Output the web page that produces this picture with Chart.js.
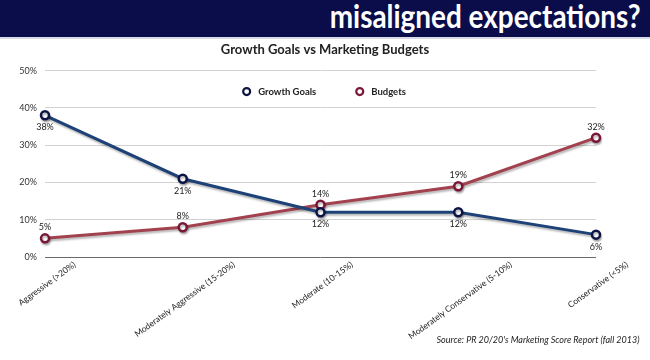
<!DOCTYPE html>
<html><head><meta charset="utf-8">
<script src="https://cdn.jsdelivr.net/npm/chart.js@4"></script>
<style>
html,body{margin:0;padding:0;background:#fff;}
#wrap{position:relative;width:650px;height:360px;overflow:hidden;font-family:Lato,"Open Sans",sans-serif;}
#hdr{position:absolute;left:0;top:0;width:650px;height:37px;background:#0a0d4a;border-bottom:2px solid #d9dae3;}
#hdr span{position:absolute;right:9px;top:-4px;color:#fff;font-weight:bold;font-size:32px;line-height:40px;white-space:nowrap;transform-origin:right center;}
#src{position:absolute;right:10px;top:334px;font-style:italic;font-size:9px;color:#222;white-space:nowrap;transform-origin:right center;}
canvas{position:absolute;left:0;top:0;}
</style></head>
<body><div id="wrap"><canvas id="c" width="650" height="360"></canvas><div id="hdr"><span id="ht">misaligned expectations?</span></div><div id="src">Source: PR 20/20's Marketing Score Report (fall 2013)</div></div>
<script>
const categories = ["Aggressive (>20%)", "Moderately Aggressive (15-20%)", "Moderate (10-15%)", "Moderately Conservative (5-10%)", "Conservative (<5%)"];
const growthGoals = [38, 21, 12, 12, 6];
const budgets = [5, 8, 14, 19, 32];
const seriesNames = ["Growth Goals", "Budgets"];
const yMin = 0, yMax = 50, yStep = 10;

(function(){
  const s = document.getElementById('ht');
  const w = s.getBoundingClientRect().width;
  if (w > 0) s.style.transform = 'scaleX(' + (311 / w) + ')';
  const src = document.getElementById('src');
  const w2 = src.getBoundingClientRect().width;
  if (w2 > 0) src.style.transform = 'scaleX(' + (203 / w2) + ')';
})();

const FONT = 'Lato, "Open Sans", sans-serif';

const shadowPlugin = {
  id: 'shadow',
  beforeDatasetDraw(chart) {
    const ctx = chart.ctx;
    ctx.save();
    ctx.shadowColor = 'rgba(0,0,0,0.28)';
    ctx.shadowOffsetX = 1;
    ctx.shadowOffsetY = 2;
    ctx.shadowBlur = 2;
  },
  afterDatasetDraw(chart) { chart.ctx.restore(); }
};

const labelPlugin = {
  id: 'valueLabels',
  afterDatasetsDraw(chart) {
    const ctx = chart.ctx;
    ctx.save();
    ctx.font = '9px ' + FONT;
    ctx.fillStyle = '#222';
    ctx.textAlign = 'center';
    ctx.textBaseline = 'middle';
    chart.data.datasets.forEach((ds, di) => {
      const meta = chart.getDatasetMeta(di);
      meta.data.forEach((pt, i) => {
        const off = di === 0 ? 12 : -11;
        ctx.fillText(ds.data[i] + '%', pt.x, pt.y + off);
      });
    });
    ctx.restore();
  }
};

// x category labels, rotated and centred on their tick (Excel style)
const xLabelPlugin = {
  id: 'xLabels',
  afterDraw(chart) {
    const ctx = chart.ctx, sc = chart.scales.x, area = chart.chartArea;
    const th = 36 * Math.PI / 180, h = 9;
    ctx.save();
    ctx.font = '8.5px ' + FONT;
    ctx.fillStyle = '#222';
    ctx.textAlign = 'center';
    ctx.textBaseline = 'middle';
    chart.data.labels.forEach((lab, i) => {
      const L = ctx.measureText(lab).width;
      const x = sc.getPixelForTick(i) + 2;
      const y = area.bottom + 3 + (L * Math.sin(th) + h * Math.cos(th)) / 2;
      ctx.save();
      ctx.translate(x, y);
      ctx.rotate(-th);
      ctx.fillText(lab, 0, 0);
      ctx.restore();
    });
    ctx.restore();
  }
};

const legendPlugin = {
  id: 'insideLegend',
  afterDraw(chart) {
    const ctx = chart.ctx, area = chart.chartArea;
    ctx.save();
    ctx.font = 'bold 9.5px ' + FONT;
    const r = 3.5, gapText = 8, gapItem = 40;
    const items = chart.data.datasets.map(ds => ({ text: ds.label, color: ds.pointBorderColor, w: ctx.measureText(ds.label).width }));
    let total = 0;
    items.forEach((it, i) => { total += r * 2 + gapText + it.w + (i ? gapItem : 0); });
    let x = (area.left + area.right) / 2 - total / 2 + 4;
    const y = area.top + 21;
    items.forEach((it, i) => {
      if (i) x += gapItem;
      ctx.beginPath();
      ctx.arc(x + r, y, r, 0, Math.PI * 2);
      ctx.fillStyle = '#fff';
      ctx.fill();
      ctx.lineWidth = 2.2;
      ctx.strokeStyle = it.color;
      ctx.stroke();
      x += r * 2 + gapText;
      ctx.fillStyle = '#222';
      ctx.textBaseline = 'middle';
      ctx.textAlign = 'left';
      ctx.fillText(it.text, x, y + 0.5);
      x += it.w;
    });
    ctx.restore();
  }
};

new Chart(document.getElementById('c'), {
  type: 'line',
  data: {
    labels: categories,
    datasets: [
      { label: seriesNames[0], data: growthGoals, borderColor: '#1e4277', borderWidth: 3,
        pointRadius: 4, pointBorderWidth: 2.5, pointBackgroundColor: '#fff', pointBorderColor: '#0b1445', tension: 0 },
      { label: seriesNames[1], data: budgets, borderColor: '#a2424f', borderWidth: 3,
        pointRadius: 4, pointBorderWidth: 2.5, pointBackgroundColor: '#fff', pointBorderColor: '#7a1636', tension: 0 }
    ]
  },
  options: {
    responsive: false,
    animation: false,
    layout: { padding: { top: 42, right: 0, bottom: 0, left: 0 } },
    plugins: {
      legend: { display: false },
      tooltip: { enabled: false },
      title: { display: true, text: 'Growth Goals vs Marketing Budgets', color: '#222',
        font: { family: FONT, size: 13, weight: 'bold' }, padding: { top: 0, bottom: 13 } }
    },
    scales: {
      x: {
        offset: false,
        grid: { display: false },
        border: { display: false },
        ticks: { display: false },
        afterFit(s) { s.height = 103; s.paddingLeft = 0; s.paddingRight = 54; }
      },
      y: {
        min: yMin, max: yMax,
        ticks: { stepSize: yStep, callback: v => v + '%', color: '#333', font: { family: FONT, size: 9 }, padding: 8 },
        grid: { drawTicks: false, color: c => c.tick && c.tick.value === 0 ? '#6a6a6a' : '#d2d2d2', lineWidth: 1 },
        border: { display: false },
        afterFit(s) { s.width = 45; }
      }
    }
  },
  plugins: [shadowPlugin, labelPlugin, xLabelPlugin, legendPlugin]
});
</script>
</body></html>
